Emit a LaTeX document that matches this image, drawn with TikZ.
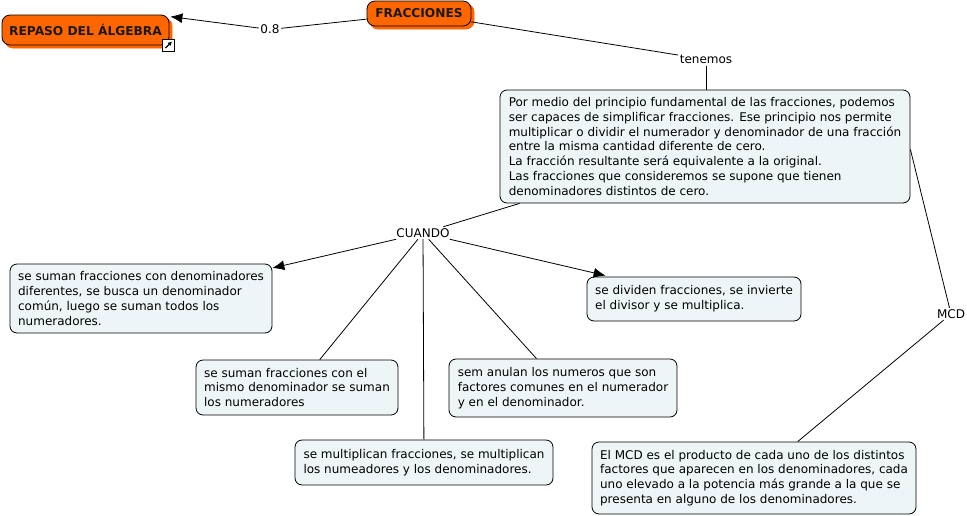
\documentclass[tikz,border=0pt]{standalone}
\usepackage{fontspec}
\setmainfont{DejaVu Sans}
\usepackage{xcolor}
\usetikzlibrary{arrows.meta,shadows}
\definecolor{mapa-orange}{RGB}{255,102,0}
\definecolor{mapa-fill}{RGB}{238,245,247}

\tikzset{
  titlebox/.style={draw=black, line width=0.8pt, fill=mapa-orange, rounded corners=8pt, inner sep=0pt,
    font=\fontsize{12.2}{14}\selectfont\bfseries, text=black!90,
    general shadow={shadow xshift=3pt, shadow yshift=-3pt, draw=mapa-orange, fill=mapa-orange}},
  textbox/.style={draw=black, line width=0.8pt, fill=mapa-fill, rounded corners=7pt, inner sep=0pt, align=left,
    font=\fontsize{12}{14.7}\selectfont},
  linklabel/.style={inner sep=1.5pt, font=\fontsize{12}{13}\selectfont},
  linkline/.style={draw=black, line width=0.8pt},
  linkarrow/.style={linkline, -{Latex[length=12pt,width=10pt]}}
}

\begin{document}
\begin{tikzpicture}[x=1pt, y=-1pt]
  \useasboundingbox (0,0) rectangle (967,515);

  % Concepts on top
  \node[titlebox, minimum width=167pt, minimum height=30pt] (repaso) at (85.5,30) {\raisebox{-1.5pt}{REPASO DEL ÁLGEBRA}};
  \node[titlebox, minimum width=104pt, minimum height=25pt] (fracciones) at (419,13.5) {FRACCIONES};
  \node[draw=black, fill=white, line width=0.8pt, minimum size=12pt, inner sep=0pt] (enlace) at (168.5,45) {};
  \draw[-{Latex[length=4pt,width=4.5pt]}, line width=1.3pt] (enlace.center)+(-3,3) -- +(3.5,-3.5);

  % Main text
  \node[textbox, minimum width=410pt, minimum height=113pt] (principio) at (705,146.5) {%
    Por medio del principio fundamental de las fracciones, podemos\\
    ser capaces de simplificar fracciones. Ese principio nos permite\\
    multiplicar o dividir el numerador y denominador de una fracción\\
    entre la misma cantidad diferente de cero.\\
    La fracción resultante será equivalente a la original.\\
    Las fracciones que consideremos se supone que tienen\\
    denominadores distintos de cero.};

  % Cases
  \node[textbox, minimum width=262pt, minimum height=69pt] (distintos) at (141,298.5) {%
    se suman fracciones con denominadores\\
    diferentes, se busca un denominador\\
    común, luego se suman todos los\\
    numeradores.};
  \node[textbox, minimum width=202pt, minimum height=55pt] (iguales) at (297,387.5) {%
    se suman fracciones con el\\
    mismo denominador se suman\\
    los numeradores};
  \node[textbox, minimum width=258pt, minimum height=45pt] (producto) at (424,462.5) {%
    se multiplican fracciones, se multiplican\\
    los numeadores y los denominadores.};
  \node[textbox, minimum width=228pt, minimum height=58pt] (anulan) at (563,388) {%
    sem anulan los numeros que son\\
    factores comunes en el numerador\\
    y en el denominador.};
  \node[textbox, minimum width=214pt, minimum height=44pt] (division) at (694,299) {%
    se dividen fracciones, se invierte\\
    el divisor y se multiplica.};
  \node[textbox, minimum width=324pt, minimum height=72pt] (definicion) at (754,478) {%
    El MCD es el producto de cada uno de los distintos\\
    factores que aparecen en los denominadores, cada\\
    uno elevado a la potencia más grande a la que se\\
    presenta en alguno de los denominadores.};

  % Linking phrases
  \node[linklabel] (ochenta) at (270,29.5) {0.8};
  \node[linklabel] (tenemos) at (706,59.5) {tenemos};
  \node[linklabel] (cuando) at (423,233) {CUANDO};
  \node[linklabel] (mcd) at (951,314) {MCD};

  % Connections
  \draw[linkline] (fracciones) -- (ochenta);
  \draw[linkarrow] (ochenta) -- ([xshift=1pt,yshift=-2pt]repaso.north east);
  \draw[linkline] (fracciones) -- (tenemos);
  \draw[linkline] (tenemos) -- (tenemos |- principio.north);
  \draw[linkline] (principio) -- (cuando);
  \draw[linkline] ([yshift=-3pt]principio.east) -- (mcd);
  \draw[linkarrow] (cuando) -- (distintos);
  \draw[linkline] (cuando) -- (iguales);
  \draw[linkline] (cuando) -- (producto);
  \draw[linkline] (cuando) -- (anulan);
  \draw[linkarrow] (cuando) -- ([xshift=19pt,yshift=1pt]division.north west);
  \draw[linkline] (mcd) -- (definicion);
\end{tikzpicture}
\end{document}
